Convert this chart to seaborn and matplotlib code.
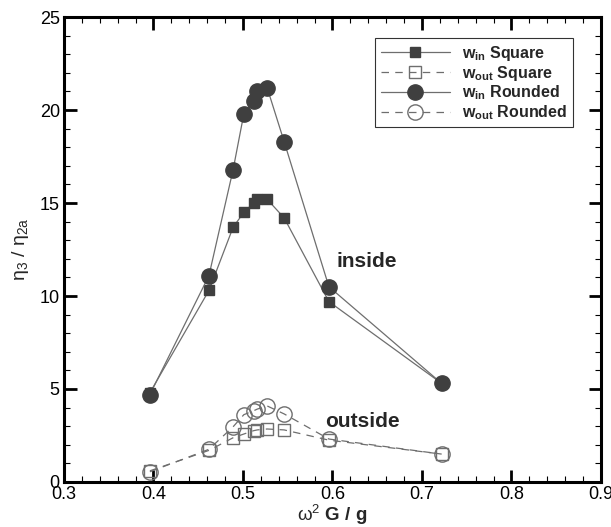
import matplotlib
matplotlib.use("Agg")
import matplotlib.pyplot as plt
import seaborn as sns
import pandas as pd
from matplotlib.ticker import MultipleLocator

# ---- data ----
x_vals = [0.396, 0.462, 0.489, 0.501, 0.512, 0.516, 0.527, 0.546, 0.596, 0.722]
win_square = [4.8, 10.3, 13.7, 14.5, 15.0, 15.2, 15.2, 14.2, 9.7, 5.3]
wout_square = [0.6, 1.7, 2.38, 2.58, 2.76, 2.8, 2.85, 2.8, 2.25, 1.5]
win_rounded = [4.7, 11.1, 16.8, 19.8, 20.5, 21.0, 21.2, 18.3, 10.5, 5.3]
wout_rounded = [0.55, 1.76, 2.97, 3.62, 3.83, 3.92, 4.09, 3.66, 2.31, 1.5]
labels = [r"$\mathbf{w_{in}\ Square}$", r"$\mathbf{w_{out}\ Square}$",
          r"$\mathbf{w_{in}\ Rounded}$", r"$\mathbf{w_{out}\ Rounded}$"]
x_ticks = [0.3, 0.4, 0.5, 0.6, 0.7, 0.8, 0.9]
y_ticks = [0, 5, 10, 15, 20, 25]

sns.set_theme(style="ticks")
plt.rcParams["font.family"] = ["Liberation Sans", "DejaVu Sans"]
plt.rcParams["mathtext.fontset"] = "custom"
plt.rcParams["mathtext.rm"] = "Liberation Sans"
plt.rcParams["mathtext.it"] = "Liberation Sans"
plt.rcParams["mathtext.bf"] = "Liberation Sans:bold"
plt.rcParams["mathtext.default"] = "rm"

fig = plt.figure(figsize=(6.11, 5.27), dpi=100)
ax = fig.add_axes([0.1047, 0.0854, 0.8789, 0.8823])

line_c = "#6e6e6e"
fill_c = "#3f3f3f"

series = [
    (win_square, "s", 7.5, fill_c, fill_c, "-"),
    (wout_square, "s", 8, "none", line_c, "--"),
    (win_rounded, "o", 11, fill_c, fill_c, "-"),
    (wout_rounded, "o", 11, "none", line_c, "--"),
]
for (yv, mk, ms, fc, ec, ls), lab in zip(series, labels):
    df = pd.DataFrame({"x": x_vals, "y": yv})
    sns.lineplot(data=df, x="x", y="y", ax=ax, sort=False, color=line_c,
                 linewidth=0.9, linestyle=ls, marker=mk, markersize=ms,
                 markerfacecolor=fc, markeredgecolor=ec, markeredgewidth=1.0,
                 label=lab)
for ln in ax.lines:
    if ln.get_linestyle() == "--":
        ln.set_dashes((6, 5))

ax.set_xlim(0.3, 0.9)
ax.set_ylim(0, 25)
ax.set_xticks(x_ticks)
ax.set_yticks(y_ticks)
ax.set_xticklabels([f"{v:g}" for v in x_ticks])
ax.set_yticklabels([f"{v:g}" for v in y_ticks])
ax.xaxis.set_minor_locator(MultipleLocator(0.02))
ax.yaxis.set_minor_locator(MultipleLocator(1))
ax.tick_params(which="both", direction="in", top=True, right=True, colors="black")
ax.tick_params(which="major", length=9, width=2, labelsize=13, pad=3)
ax.tick_params(which="minor", length=4.5, width=0.8)
for s in ax.spines.values():
    s.set_linewidth(2.2)
    s.set_color("black")

ax.set_xlabel(r"$\omega^2$ $\mathbf{G\ /\ g}$", fontsize=13.5)
ax.xaxis.set_label_coords(0.5, -0.045)
ax.set_ylabel(r"$\eta_3$ / $\eta_{2a}$", fontsize=14, labelpad=6)

ax.text(0.604, 11.84, "inside", fontsize=15, fontweight="bold", va="center", ha="left")
ax.text(0.592, 3.23, "outside", fontsize=15, fontweight="bold", va="center", ha="left")

leg = ax.legend(loc="upper right", bbox_to_anchor=(0.948, 0.954), fontsize=11.5,
                frameon=True, fancybox=False, handlelength=4.3, handletextpad=0.8,
                borderpad=0.35, labelspacing=0.05, borderaxespad=0)
leg.get_frame().set_edgecolor("black")
leg.get_frame().set_linewidth(0.8)

fig.savefig("out.png", dpi=100)
